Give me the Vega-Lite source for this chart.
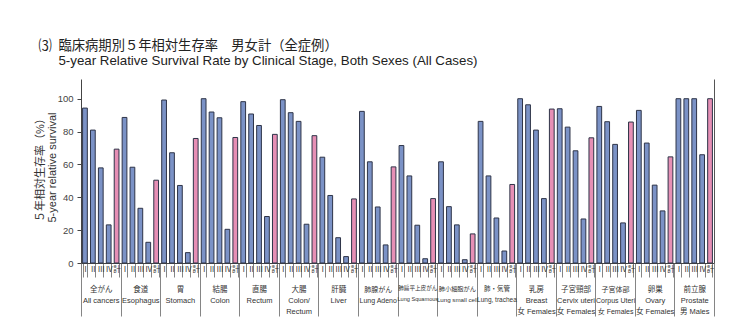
{
  "$schema": "https://vega.github.io/schema/vega-lite/v6.json",
  "autosize": "none",
  "padding": {"left": 81, "top": 79, "right": 22, "bottom": 72},
  "width": 633,
  "height": 184,
  "background": "white",
  "config": {"view": {"stroke": null}},
  "data": {"values": [
    {"site": "全がん|All cancers", "k": "01-Ⅰ", "stage": "Ⅰ", "v": 94.3},
    {"site": "全がん|All cancers", "k": "01-Ⅱ", "stage": "Ⅱ", "v": 80.9},
    {"site": "全がん|All cancers", "k": "01-Ⅲ", "stage": "Ⅲ", "v": 57.9},
    {"site": "全がん|All cancers", "k": "01-Ⅳ", "stage": "Ⅳ", "v": 23.2},
    {"site": "全がん|All cancers", "k": "01-計", "stage": "計", "v": 69.3},
    {"site": "食道|Esophagus", "k": "02-Ⅰ", "stage": "Ⅰ", "v": 88.6},
    {"site": "食道|Esophagus", "k": "02-Ⅱ", "stage": "Ⅱ", "v": 58.3},
    {"site": "食道|Esophagus", "k": "02-Ⅲ", "stage": "Ⅲ", "v": 33.3},
    {"site": "食道|Esophagus", "k": "02-Ⅳ", "stage": "Ⅳ", "v": 12.6},
    {"site": "食道|Esophagus", "k": "02-計", "stage": "計", "v": 50.4},
    {"site": "胃|Stomach", "k": "03-Ⅰ", "stage": "Ⅰ", "v": 99.2},
    {"site": "胃|Stomach", "k": "03-Ⅱ", "stage": "Ⅱ", "v": 67.1},
    {"site": "胃|Stomach", "k": "03-Ⅲ", "stage": "Ⅲ", "v": 47.2},
    {"site": "胃|Stomach", "k": "03-Ⅳ", "stage": "Ⅳ", "v": 6.3},
    {"site": "胃|Stomach", "k": "03-計", "stage": "計", "v": 75.8},
    {"site": "結腸|Colon", "k": "04-Ⅰ", "stage": "Ⅰ", "v": 100},
    {"site": "結腸|Colon", "k": "04-Ⅱ", "stage": "Ⅱ", "v": 91.9},
    {"site": "結腸|Colon", "k": "04-Ⅲ", "stage": "Ⅲ", "v": 88.4},
    {"site": "結腸|Colon", "k": "04-Ⅳ", "stage": "Ⅳ", "v": 20.5},
    {"site": "結腸|Colon", "k": "04-計", "stage": "計", "v": 76.4},
    {"site": "直腸|Rectum", "k": "05-Ⅰ", "stage": "Ⅰ", "v": 98.2},
    {"site": "直腸|Rectum", "k": "05-Ⅱ", "stage": "Ⅱ", "v": 90.7},
    {"site": "直腸|Rectum", "k": "05-Ⅲ", "stage": "Ⅲ", "v": 83.7},
    {"site": "直腸|Rectum", "k": "05-Ⅳ", "stage": "Ⅳ", "v": 28.3},
    {"site": "直腸|Rectum", "k": "05-計", "stage": "計", "v": 78.3},
    {"site": "大腸|Colon/|Rectum", "k": "06-Ⅰ", "stage": "Ⅰ", "v": 99.4},
    {"site": "大腸|Colon/|Rectum", "k": "06-Ⅱ", "stage": "Ⅱ", "v": 91.5},
    {"site": "大腸|Colon/|Rectum", "k": "06-Ⅲ", "stage": "Ⅲ", "v": 86.2},
    {"site": "大腸|Colon/|Rectum", "k": "06-Ⅳ", "stage": "Ⅳ", "v": 23.6},
    {"site": "大腸|Colon/|Rectum", "k": "06-計", "stage": "計", "v": 77.5},
    {"site": "肝臓|Liver", "k": "07-Ⅰ", "stage": "Ⅰ", "v": 64.4},
    {"site": "肝臓|Liver", "k": "07-Ⅱ", "stage": "Ⅱ", "v": 41.1},
    {"site": "肝臓|Liver", "k": "07-Ⅲ", "stage": "Ⅲ", "v": 15.4},
    {"site": "肝臓|Liver", "k": "07-Ⅳ", "stage": "Ⅳ", "v": 3.9},
    {"site": "肝臓|Liver", "k": "07-計", "stage": "計", "v": 39.0},
    {"site": "肺腺がん|Lung Adeno", "k": "08-Ⅰ", "stage": "Ⅰ", "v": 92.3},
    {"site": "肺腺がん|Lung Adeno", "k": "08-Ⅱ", "stage": "Ⅱ", "v": 61.6},
    {"site": "肺腺がん|Lung Adeno", "k": "08-Ⅲ", "stage": "Ⅲ", "v": 34.1},
    {"site": "肺腺がん|Lung Adeno", "k": "08-Ⅳ", "stage": "Ⅳ", "v": 11.0},
    {"site": "肺腺がん|Lung Adeno", "k": "08-計", "stage": "計", "v": 58.5},
    {"site": "肺扁平上皮がん|Lung Squamous", "k": "09-Ⅰ", "stage": "Ⅰ", "v": 71.5},
    {"site": "肺扁平上皮がん|Lung Squamous", "k": "09-Ⅱ", "stage": "Ⅱ", "v": 53.0},
    {"site": "肺扁平上皮がん|Lung Squamous", "k": "09-Ⅲ", "stage": "Ⅲ", "v": 23.0},
    {"site": "肺扁平上皮がん|Lung Squamous", "k": "09-Ⅳ", "stage": "Ⅳ", "v": 2.6},
    {"site": "肺扁平上皮がん|Lung Squamous", "k": "09-計", "stage": "計", "v": 39.2},
    {"site": "肺小細胞がん|Lung small cell", "k": "10-Ⅰ", "stage": "Ⅰ", "v": 61.6},
    {"site": "肺小細胞がん|Lung small cell", "k": "10-Ⅱ", "stage": "Ⅱ", "v": 34.3},
    {"site": "肺小細胞がん|Lung small cell", "k": "10-Ⅲ", "stage": "Ⅲ", "v": 23.2},
    {"site": "肺小細胞がん|Lung small cell", "k": "10-Ⅳ", "stage": "Ⅳ", "v": 2.0},
    {"site": "肺小細胞がん|Lung small cell", "k": "10-計", "stage": "計", "v": 17.7},
    {"site": "肺・気管|Lung, trachea", "k": "11-Ⅰ", "stage": "Ⅰ", "v": 86.2},
    {"site": "肺・気管|Lung, trachea", "k": "11-Ⅱ", "stage": "Ⅱ", "v": 53.0},
    {"site": "肺・気管|Lung, trachea", "k": "11-Ⅲ", "stage": "Ⅲ", "v": 27.4},
    {"site": "肺・気管|Lung, trachea", "k": "11-Ⅳ", "stage": "Ⅳ", "v": 7.3},
    {"site": "肺・気管|Lung, trachea", "k": "11-計", "stage": "計", "v": 47.8},
    {"site": "乳房|Breast|女 Females", "k": "12-Ⅰ", "stage": "Ⅰ", "v": 100},
    {"site": "乳房|Breast|女 Females", "k": "12-Ⅱ", "stage": "Ⅱ", "v": 96.3},
    {"site": "乳房|Breast|女 Females", "k": "12-Ⅲ", "stage": "Ⅲ", "v": 80.9},
    {"site": "乳房|Breast|女 Females", "k": "12-Ⅳ", "stage": "Ⅳ", "v": 39.2},
    {"site": "乳房|Breast|女 Females", "k": "12-計", "stage": "計", "v": 93.7},
    {"site": "子宮頸部|Cervix uteri|女 Females", "k": "13-Ⅰ", "stage": "Ⅰ", "v": 93.9},
    {"site": "子宮頸部|Cervix uteri|女 Females", "k": "13-Ⅱ", "stage": "Ⅱ", "v": 82.7},
    {"site": "子宮頸部|Cervix uteri|女 Females", "k": "13-Ⅲ", "stage": "Ⅲ", "v": 68.3},
    {"site": "子宮頸部|Cervix uteri|女 Females", "k": "13-Ⅳ", "stage": "Ⅳ", "v": 26.8},
    {"site": "子宮頸部|Cervix uteri|女 Females", "k": "13-計", "stage": "計", "v": 76.2},
    {"site": "子宮体部|Corpus Uteri|女 Females", "k": "14-Ⅰ", "stage": "Ⅰ", "v": 95.3},
    {"site": "子宮体部|Corpus Uteri|女 Females", "k": "14-Ⅱ", "stage": "Ⅱ", "v": 86.0},
    {"site": "子宮体部|Corpus Uteri|女 Females", "k": "14-Ⅲ", "stage": "Ⅲ", "v": 72.2},
    {"site": "子宮体部|Corpus Uteri|女 Females", "k": "14-Ⅳ", "stage": "Ⅳ", "v": 24.4},
    {"site": "子宮体部|Corpus Uteri|女 Females", "k": "14-計", "stage": "計", "v": 85.8},
    {"site": "卵巣|Ovary|女 Females", "k": "15-Ⅰ", "stage": "Ⅰ", "v": 92.9},
    {"site": "卵巣|Ovary|女 Females", "k": "15-Ⅱ", "stage": "Ⅱ", "v": 73.0},
    {"site": "卵巣|Ovary|女 Females", "k": "15-Ⅲ", "stage": "Ⅲ", "v": 47.4},
    {"site": "卵巣|Ovary|女 Females", "k": "15-Ⅳ", "stage": "Ⅳ", "v": 31.7},
    {"site": "卵巣|Ovary|女 Females", "k": "15-計", "stage": "計", "v": 64.6},
    {"site": "前立腺|Prostate|男 Males", "k": "16-Ⅰ", "stage": "Ⅰ", "v": 100},
    {"site": "前立腺|Prostate|男 Males", "k": "16-Ⅱ", "stage": "Ⅱ", "v": 100},
    {"site": "前立腺|Prostate|男 Males", "k": "16-Ⅲ", "stage": "Ⅲ", "v": 100},
    {"site": "前立腺|Prostate|男 Males", "k": "16-Ⅳ", "stage": "Ⅳ", "v": 65.9},
    {"site": "前立腺|Prostate|男 Males", "k": "16-計", "stage": "計", "v": 100}
  ]},
  "layer": [
    {
      "mark": {"type": "bar", "stroke": "#2e3448", "strokeWidth": 1},
      "encoding": {
        "x": {
          "field": "k", "type": "nominal", "sort": null,
          "scale": {"paddingInner": 0.4, "paddingOuter": 0.2},
          "axis": {
            "orient": "bottom", "title": null,
            "labelExpr": "isString(datum.value) ? split(datum.value, '-')[1] : ''",
            "tickBand": "extent", "tickSize": 14, "tickColor": "#666", "tickWidth": 0.8,
            "domain": true, "domainColor": "#444",
            "labelPadding": -12, "labelAngle": 0, "labelBaseline": "top",
            "labelFont": "Noto Sans CJK JP", "labelFontSize": 7.5,
            "labelOverlap": false, "labelColor": "#333", "labelBound": false
          }
        },
        "y": {
          "field": "v", "type": "quantitative",
          "scale": {"domain": [0, 112], "nice": false},
          "axis": {
            "orient": "left", "values": [0, 20, 40, 60, 80, 100],
            "grid": false, "domainColor": "#444", "tickColor": "#444", "tickSize": 4,
            "labelFont": "'Liberation Sans Narrow', 'Liberation Sans', sans-serif", "labelFontSize": 9.5, "labelColor": "#444", "labelPadding": 4,
            "title": ["５年相対生存率（%）", "5-year relative survival"],
            "titleFont": "Liberation Sans, Noto Sans CJK JP", "titleFontSize": 11, "titleFontWeight": "normal",
            "titleColor": "#333", "titleLineHeight": 12,
            "titleX": -38, "titleY": 88, "titleBaseline": "alphabetic", "titleAlign": "center", "titleAngle": -90
          }
        },
        "color": {
          "field": "stage", "type": "nominal", "legend": null,
          "scale": {"domain": ["Ⅰ", "Ⅱ", "Ⅲ", "Ⅳ", "計"], "range": ["#7b92c6", "#7b92c6", "#7b92c6", "#7b92c6", "#e68fb5"]}
        }
      }
    },
    {
      "mark": {"type": "bar", "opacity": 0},
      "encoding": {
        "x": {
          "field": "site", "type": "nominal", "sort": null,
          "scale": {"paddingInner": 0, "paddingOuter": 0},
          "axis": {
            "orient": "bottom", "title": null,
            "labelExpr": "isString(datum.value) ? split(datum.value, '|') : ''",
            "tickBand": "extent", "tickSize": 53, "tickColor": "#666", "tickWidth": 0.8,
            "domain": false,
            "labelPadding": -31, "labelAngle": 0, "labelBaseline": "top",
            "labelFont": "'Liberation Sans Narrow', 'Liberation Sans', 'Noto Sans CJK JP', sans-serif",
            "labelFontSize": {
              "condition": [
                {"test": "isString(datum.value) && indexof(datum.value, 'Squamous') >= 0", "value": 5.6},
                {"test": "isString(datum.value) && indexof(datum.value, 'small cell') >= 0", "value": 6.2},
                {"test": "isString(datum.value) && indexof(datum.value, 'trachea') >= 0", "value": 6.5},
                {"test": "isString(datum.value) && (indexof(datum.value, 'Adeno') >= 0 || indexof(datum.value, 'Corpus') >= 0)", "value": 7}
              ],
              "value": 7.5
            },
            "labelLineHeight": 11, "labelLimit": 300,
            "labelOverlap": false, "labelColor": "#333", "labelBound": false
          }
        },
        "y": {
          "field": "v", "type": "quantitative",
          "axis": {"orient": "right", "labels": false, "ticks": false, "grid": false, "title": null, "domainColor": "#555"}
        }
      }
    },
    {
      "mark": {"type": "bar", "opacity": 0},
      "encoding": {
        "x": {
          "field": "k", "type": "nominal", "sort": null,
          "axis": {
            "orient": "top", "domain": false, "ticks": false, "labels": false,
            "title": ["⑶\u2002臨床病期別５年相対生存率　男女計（全症例）", "\u200b\u2003\u20025-year Relative Survival Rate by Clinical Stage, Both Sexes (All Cases)"],
            "titleFont": "Liberation Sans, Noto Sans CJK JP", "titleFontSize": 13.3, "titleFontWeight": "normal",
            "titleColor": "#222", "titleLineHeight": 15,
            "titleX": -43, "titleY": -30, "titleAlign": "left", "titleAnchor": "start", "titleBaseline": "alphabetic", "titleAngle": 0
          }
        }
      }
    }
  ],
  "resolve": {"scale": {"x": "independent"}, "axis": {"x": "independent", "y": "independent"}}
}
